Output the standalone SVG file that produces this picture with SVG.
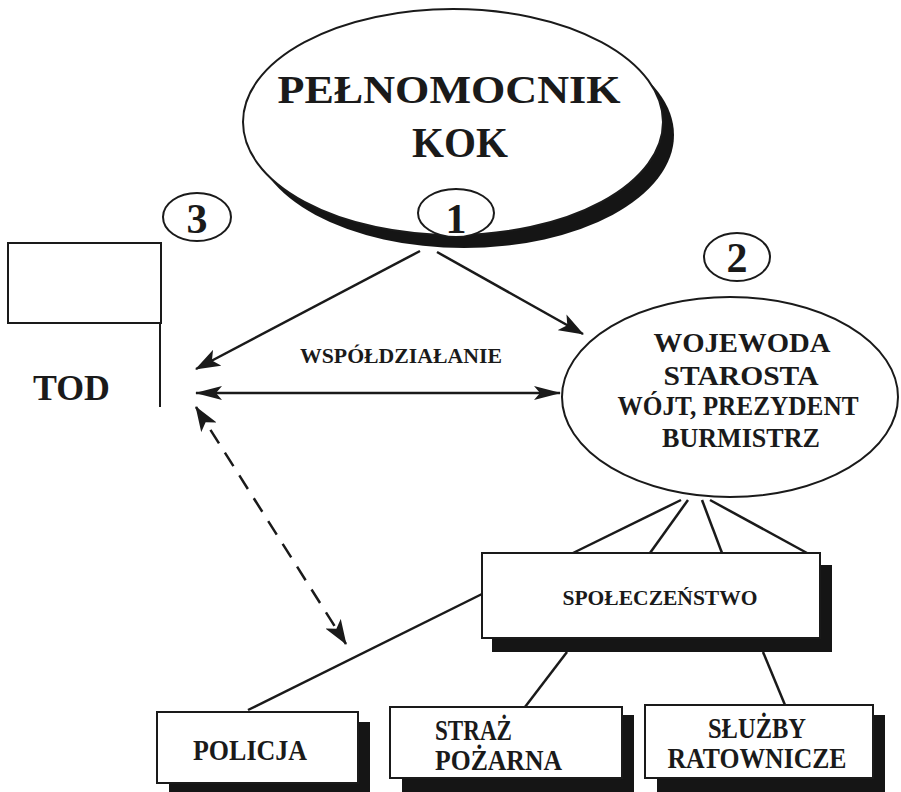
<svg xmlns="http://www.w3.org/2000/svg" width="901" height="792" viewBox="0 0 901 792">
<style>
.ln{stroke:#1a1a1a;stroke-width:2.5;fill:none}
.box{fill:#fff;stroke:#1a1a1a;stroke-width:2}
.sh{fill:#151515}
.ell{fill:#fff;stroke:#1a1a1a;stroke-width:2}
</style>
<defs>
<marker id="arr" markerUnits="userSpaceOnUse" markerWidth="26" markerHeight="18" refX="24" refY="9" orient="auto-start-reverse">
<path d="M25,9 L0,0 L6,9 L0,18 z" fill="#1a1a1a"/>
</marker>
<marker id="arrN" markerUnits="userSpaceOnUse" markerWidth="28" markerHeight="14" refX="26" refY="7" orient="auto-start-reverse">
<path d="M27,7 L0,0 L6,7 L0,14 z" fill="#1a1a1a"/>
</marker>
</defs>
<rect width="901" height="792" fill="#fff"/>

<g id="connectors">
<line class="ln" x1="420" y1="251" x2="196" y2="369" marker-end="url(#arr)"/>
<line class="ln" x1="437" y1="252" x2="583" y2="334" marker-end="url(#arr)"/>
<line class="ln" x1="196" y1="393" x2="560" y2="393" marker-start="url(#arrN)" marker-end="url(#arrN)"/>
<line class="ln" x1="196" y1="407" x2="346" y2="644" stroke-width="3" stroke-dasharray="16 11" marker-start="url(#arr)" marker-end="url(#arr)"/>
<line class="ln" x1="681" y1="500" x2="573" y2="553"/>
<line class="ln" x1="688" y1="500" x2="650" y2="553"/>
<line class="ln" x1="702" y1="500" x2="722" y2="553"/>
<line class="ln" x1="710" y1="500" x2="807" y2="553"/>
<line class="ln" x1="482" y1="594" x2="248" y2="710"/>
<line class="ln" x1="567" y1="652" x2="525" y2="707"/>
<line class="ln" x1="763" y1="652" x2="785" y2="705"/>
</g>

<g font-family="Liberation Serif, serif" font-weight="bold" fill="#1a1a1a">
<g id="pelnomocnik">
<ellipse class="sh" cx="464" cy="135" rx="210" ry="113"/>
<ellipse class="ell" cx="453" cy="122" rx="210" ry="113" stroke-width="2.5"/>
<text x="449" y="103" font-size="41" text-anchor="middle" textLength="343" lengthAdjust="spacingAndGlyphs">PEŁNOMOCNIK</text>
<text x="460" y="157" font-size="42" text-anchor="middle" textLength="96" lengthAdjust="spacingAndGlyphs">KOK</text>
</g>

<g id="n1">
<ellipse class="ell" cx="456" cy="213" rx="38" ry="24"/>
<text x="456" y="233" font-size="42" text-anchor="middle">1</text>
</g>

<g id="n3">
<ellipse class="ell" cx="197" cy="217" rx="34" ry="24"/>
<text x="197" y="233" font-size="42" text-anchor="middle">3</text>
</g>

<g id="n2">
<ellipse class="ell" cx="737" cy="257" rx="33" ry="24"/>
<text x="737" y="272" font-size="42" text-anchor="middle">2</text>
</g>

<g id="tod">
<rect x="8" y="243" width="153" height="80" fill="#fff" stroke="#1a1a1a" stroke-width="2"/>
<line x1="160" y1="323" x2="160" y2="407" stroke="#1a1a1a" stroke-width="2"/>
<text x="33" y="400" font-size="35" textLength="77" lengthAdjust="spacingAndGlyphs">TOD</text>
</g>

<g id="wspoldzialanie">
<text x="401" y="363" font-size="20" text-anchor="middle" textLength="202" lengthAdjust="spacingAndGlyphs">WSPÓŁDZIAŁANIE</text>
</g>

<g id="wojewoda">
<ellipse class="ell" cx="730" cy="397" rx="168" ry="100"/>
<text x="742" y="352" font-size="28" text-anchor="middle" textLength="177" lengthAdjust="spacingAndGlyphs">WOJEWODA</text>
<text x="741" y="385" font-size="28" text-anchor="middle" textLength="155" lengthAdjust="spacingAndGlyphs">STAROSTA</text>
<text x="738" y="415" font-size="27" text-anchor="middle" textLength="241" lengthAdjust="spacingAndGlyphs">WÓJT, PREZYDENT</text>
<text x="741" y="447" font-size="27" text-anchor="middle" textLength="158" lengthAdjust="spacingAndGlyphs">BURMISTRZ</text>
</g>

<g id="spoleczenstwo">
<rect class="sh" x="492" y="565" width="340" height="87"/>
<rect class="box" x="482" y="553" width="338" height="85"/>
<text x="660" y="605" font-size="22" text-anchor="middle" textLength="195" lengthAdjust="spacingAndGlyphs">SPOŁECZEŃSTWO</text>
</g>

<g id="policja">
<rect class="sh" x="169" y="722" width="201" height="75"/>
<rect class="box" x="157" y="712" width="201" height="71"/>
<text x="250" y="760" font-size="29" text-anchor="middle" textLength="114" lengthAdjust="spacingAndGlyphs">POLICJA</text>
</g>

<g id="straz">
<rect class="sh" x="402" y="715" width="232" height="80"/>
<rect class="box" x="390" y="707" width="232" height="71"/>
<text x="435" y="740" font-size="29" textLength="77" lengthAdjust="spacingAndGlyphs">STRAŻ</text>
<text x="435" y="770" font-size="29" textLength="127" lengthAdjust="spacingAndGlyphs">POŻARNA</text>
</g>

<g id="sluzby">
<rect class="sh" x="657" y="715" width="228" height="80"/>
<rect class="box" x="645" y="705" width="228" height="73"/>
<text x="757" y="738" font-size="29" text-anchor="middle" textLength="98" lengthAdjust="spacingAndGlyphs">SŁUŻBY</text>
<text x="757" y="768" font-size="29" text-anchor="middle" textLength="179" lengthAdjust="spacingAndGlyphs">RATOWNICZE</text>
</g>
</g>
</svg>
